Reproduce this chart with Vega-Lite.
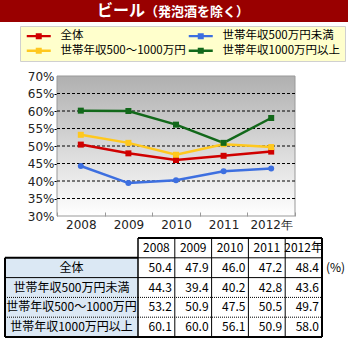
{
  "$schema": "https://vega.github.io/schema/vega-lite/v6.json",
  "padding": 0,
  "background": "white",
  "spacing": 0,
  "resolve": {"scale": {"color": "independent", "stroke": "independent"}, "legend": {"color": "independent", "stroke": "independent"}},
  "config": {"view": {"stroke": null}, "font": "Noto Sans CJK JP"},
  "datasets": {
    "rates": [
      {"series": "全体", "year": "2008", "value": 50.4},
      {"series": "全体", "year": "2009", "value": 47.9},
      {"series": "全体", "year": "2010", "value": 46.0},
      {"series": "全体", "year": "2011", "value": 47.2},
      {"series": "全体", "year": "2012", "value": 48.4},
      {"series": "世帯年収500万円未満", "year": "2008", "value": 44.3},
      {"series": "世帯年収500万円未満", "year": "2009", "value": 39.4},
      {"series": "世帯年収500万円未満", "year": "2010", "value": 40.2},
      {"series": "世帯年収500万円未満", "year": "2011", "value": 42.8},
      {"series": "世帯年収500万円未満", "year": "2012", "value": 43.6},
      {"series": "世帯年収500～1000万円", "year": "2008", "value": 53.2},
      {"series": "世帯年収500～1000万円", "year": "2009", "value": 50.9},
      {"series": "世帯年収500～1000万円", "year": "2010", "value": 47.5},
      {"series": "世帯年収500～1000万円", "year": "2011", "value": 50.5},
      {"series": "世帯年収500～1000万円", "year": "2012", "value": 49.7},
      {"series": "世帯年収1000万円以上", "year": "2008", "value": 60.1},
      {"series": "世帯年収1000万円以上", "year": "2009", "value": 60.0},
      {"series": "世帯年収1000万円以上", "year": "2010", "value": 56.1},
      {"series": "世帯年収1000万円以上", "year": "2011", "value": 50.9},
      {"series": "世帯年収1000万円以上", "year": "2012", "value": 58.0}
    ],
    "years": [
      {"year": "2008", "label": "2008"},
      {"year": "2009", "label": "2009"},
      {"year": "2010", "label": "2010"},
      {"year": "2011", "label": "2011"},
      {"year": "2012", "label": "2012年"}
    ],
    "grid": [{"v": 35}, {"v": 40}, {"v": 45}, {"v": 50}, {"v": 55}, {"v": 60}, {"v": 65}],
    "one": [{}]
  },
  "vconcat": [
    {
      "width": 348,
      "height": 22,
      "data": {"name": "one"},
      "layer": [
        {"mark": {"type": "rect", "fill": "#990000"}, "encoding": {}},
        {"mark": {"type": "text", "text": "ビール", "align": "right", "baseline": "middle", "dx": -29, "fontSize": 16, "fontWeight": "bold", "color": "#ffffff", "font": "Noto Sans CJK JP"}, "encoding": {}},
        {"mark": {"type": "text", "text": "（発泡酒を除く）", "align": "left", "baseline": "middle", "dx": -29, "dy": 1, "fontSize": 13, "fontWeight": "bold", "color": "#ffffff", "font": "Noto Sans CJK JP"}, "encoding": {}}
      ]
    },
    {
      "width": 295,
      "height": 215,
      "layer": [
        {
          "data": {"name": "one"},
          "mark": {"type": "rect", "stroke": "#999999", "strokeWidth": 1,
            "fill": {"gradient": "linear", "x1": 0, "y1": 0, "x2": 0, "y2": 1,
              "stops": [{"offset": 0, "color": "#b0b0b0"}, {"offset": 1, "color": "#ffffff"}]}},
          "encoding": {
            "x": {"datum": "2008", "type": "ordinal", "bandPosition": 0,
              "scale": {"type": "band", "domain": ["2008", "2009", "2010", "2011", "2012"], "range": [57, 295], "paddingInner": 0, "paddingOuter": 0},
              "axis": {"orient": "bottom", "offset": -21, "domain": false, "grid": false, "tickBand": "extent", "tickSize": -4, "tickColor": "#999999", "labelExpr": "datum.value == '2012' ? '2012年' : datum.value", "labelFont": "DejaVu Sans", "labelFontSize": 12, "labelColor": "#222222", "labelPadding": 7, "labelAngle": 0, "title": null}},
            "x2": {"datum": "2012", "bandPosition": 1},
            "y": {"datum": 70, "type": "quantitative",
              "scale": {"type": "linear", "domain": [30, 70], "range": [194, 54], "nice": false, "zero": false},
              "axis": {"orient": "left", "offset": -57, "values": [30, 35, 40, 45, 50, 55, 60, 65, 70], "labelExpr": "datum.value + '%'", "title": null, "domain": false, "grid": false, "tickSize": 3, "tickColor": "#000000", "tickOpacity": {"condition": {"test": "datum.value == 30 || datum.value == 70", "value": 0}, "value": 1}, "labelFont": "DejaVu Sans", "labelFontSize": 12, "labelColor": "#222222", "labelPadding": 0}},
            "y2": {"datum": 30}
          }
        },
        {
          "data": {"name": "grid"},
          "mark": {"type": "rule", "color": "#000000", "strokeWidth": 1, "strokeDash": [3, 2]},
          "encoding": {
            "x": {"datum": "2008", "type": "ordinal", "bandPosition": 0,
              "scale": {"type": "band", "domain": ["2008", "2009", "2010", "2011", "2012"], "range": [57, 295], "paddingInner": 0, "paddingOuter": 0},
              "axis": {"orient": "bottom", "offset": -21, "domain": false, "grid": false, "tickBand": "extent", "tickSize": -4, "tickColor": "#999999", "labelExpr": "datum.value == '2012' ? '2012年' : datum.value", "labelFont": "DejaVu Sans", "labelFontSize": 12, "labelColor": "#222222", "labelPadding": 7, "labelAngle": 0, "title": null}},
            "x2": {"datum": "2012", "bandPosition": 1},
            "y": {"field": "v", "type": "quantitative",
              "scale": {"type": "linear", "domain": [30, 70], "range": [194, 54], "nice": false, "zero": false},
              "axis": {"orient": "left", "offset": -57, "values": [30, 35, 40, 45, 50, 55, 60, 65, 70], "labelExpr": "datum.value + '%'", "title": null, "domain": false, "grid": false, "tickSize": 3, "tickColor": "#000000", "tickOpacity": {"condition": {"test": "datum.value == 30 || datum.value == 70", "value": 0}, "value": 1}, "labelFont": "DejaVu Sans", "labelFontSize": 12, "labelColor": "#222222", "labelPadding": 0}}
          }
        },
        {
          "data": {"name": "rates"},
          "mark": {"type": "line", "strokeWidth": 2.5},
          "encoding": {
            "x": {"field": "year", "type": "ordinal",
              "scale": {"type": "band", "domain": ["2008", "2009", "2010", "2011", "2012"], "range": [57, 295], "paddingInner": 0, "paddingOuter": 0},
              "axis": {"orient": "bottom", "offset": -21, "domain": false, "grid": false, "tickBand": "extent", "tickSize": -4, "tickColor": "#999999", "labelExpr": "datum.value == '2012' ? '2012年' : datum.value", "labelFont": "DejaVu Sans", "labelFontSize": 12, "labelColor": "#222222", "labelPadding": 7, "labelAngle": 0, "title": null}},
            "y": {"field": "value", "type": "quantitative",
              "scale": {"type": "linear", "domain": [30, 70], "range": [194, 54], "nice": false, "zero": false},
              "axis": {"orient": "left", "offset": -57, "values": [30, 35, 40, 45, 50, 55, 60, 65, 70], "labelExpr": "datum.value + '%'", "title": null, "domain": false, "grid": false, "tickSize": 3, "tickColor": "#000000", "tickOpacity": {"condition": {"test": "datum.value == 30 || datum.value == 70", "value": 0}, "value": 1}, "labelFont": "DejaVu Sans", "labelFontSize": 12, "labelColor": "#222222", "labelPadding": 0}},
            "stroke": {"field": "series", "type": "nominal",
              "scale": {"domain": ["世帯年収1000万円以上", "世帯年収500～1000万円", "世帯年収500万円未満", "全体"], "range": ["#12681a", "#ffc81e", "#3d6fe0", "#d00000"]},
              "legend": null}
          }
        },
        {
          "data": {"name": "rates"},
          "transform": [{"filter": "datum.series !== '世帯年収500万円未満'"}],
          "mark": {"type": "square", "opacity": 1, "size": 36},
          "encoding": {
            "x": {"field": "year", "type": "ordinal",
              "scale": {"type": "band", "domain": ["2008", "2009", "2010", "2011", "2012"], "range": [57, 295], "paddingInner": 0, "paddingOuter": 0},
              "axis": {"orient": "bottom", "offset": -21, "domain": false, "grid": false, "tickBand": "extent", "tickSize": -4, "tickColor": "#999999", "labelExpr": "datum.value == '2012' ? '2012年' : datum.value", "labelFont": "DejaVu Sans", "labelFontSize": 12, "labelColor": "#222222", "labelPadding": 7, "labelAngle": 0, "title": null}},
            "y": {"field": "value", "type": "quantitative",
              "scale": {"type": "linear", "domain": [30, 70], "range": [194, 54], "nice": false, "zero": false},
              "axis": {"orient": "left", "offset": -57, "values": [30, 35, 40, 45, 50, 55, 60, 65, 70], "labelExpr": "datum.value + '%'", "title": null, "domain": false, "grid": false, "tickSize": 3, "tickColor": "#000000", "tickOpacity": {"condition": {"test": "datum.value == 30 || datum.value == 70", "value": 0}, "value": 1}, "labelFont": "DejaVu Sans", "labelFontSize": 12, "labelColor": "#222222", "labelPadding": 0}},
            "color": {"field": "series", "type": "nominal",
              "scale": {"domain": ["全体", "世帯年収500万円未満", "世帯年収500～1000万円", "世帯年収1000万円以上"], "range": ["#d00000", "#3d6fe0", "#ffc81e", "#12681a"]},
              "legend": {"title": null, "orient": "none", "direction": "horizontal", "legendX": 20, "legendY": 4, "columns": 2, "columnPadding": 0, "rowPadding": 2, "padding": 4,
                "fillColor": "#ffffcc", "strokeColor": "#d0d0d0", "labelFont": "Noto Sans CJK JP", "labelFontSize": 11.5, "labelColor": "#000000", "labelLimit": 300,
                "symbolType": "M-4,-0.4H4V0.4H-4Z M-1,-1H1V1H-1Z", "symbolSize": 36, "symbolOffset": 9, "labelOffset": 16, "symbolStrokeWidth": 0}}
          }
        },
        {
          "data": {"name": "rates"},
          "transform": [{"filter": "datum.series === '世帯年収500万円未満'"}],
          "mark": {"type": "circle", "opacity": 1, "size": 36},
          "encoding": {
            "x": {"field": "year", "type": "ordinal",
              "scale": {"type": "band", "domain": ["2008", "2009", "2010", "2011", "2012"], "range": [57, 295], "paddingInner": 0, "paddingOuter": 0},
              "axis": {"orient": "bottom", "offset": -21, "domain": false, "grid": false, "tickBand": "extent", "tickSize": -4, "tickColor": "#999999", "labelExpr": "datum.value == '2012' ? '2012年' : datum.value", "labelFont": "DejaVu Sans", "labelFontSize": 12, "labelColor": "#222222", "labelPadding": 7, "labelAngle": 0, "title": null}},
            "y": {"field": "value", "type": "quantitative",
              "scale": {"type": "linear", "domain": [30, 70], "range": [194, 54], "nice": false, "zero": false},
              "axis": {"orient": "left", "offset": -57, "values": [30, 35, 40, 45, 50, 55, 60, 65, 70], "labelExpr": "datum.value + '%'", "title": null, "domain": false, "grid": false, "tickSize": 3, "tickColor": "#000000", "tickOpacity": {"condition": {"test": "datum.value == 30 || datum.value == 70", "value": 0}, "value": 1}, "labelFont": "DejaVu Sans", "labelFontSize": 12, "labelColor": "#222222", "labelPadding": 0}},
            "color": {"field": "series", "type": "nominal",
              "scale": {"domain": ["全体", "世帯年収500万円未満", "世帯年収500～1000万円", "世帯年収1000万円以上"], "range": ["#d00000", "#3d6fe0", "#ffc81e", "#12681a"]}}
          }
        }
      ]
    },
    {
      "width": 348,
      "height": 99,
      "resolve": {"scale": {"x": "independent"}},
      "layer": [
        {
          "layer": [
            {
              "data": {"name": "rates"},
              "transform": [{"filter": "datum.year === '2008'"}],
              "mark": {"type": "rect", "fill": "#dbe8f4"},
              "encoding": {
                "x": {"datum": "label", "type": "nominal", "scale": {"type": "band", "domain": ["label"], "range": [5, 138], "paddingInner": 0, "paddingOuter": 0}, "axis": null},
                "y": {"field": "series", "type": "nominal", "scale": {"type": "band", "domain": ["header", "全体", "世帯年収500万円未満", "世帯年収500～1000万円", "世帯年収1000万円以上"], "paddingInner": 0, "paddingOuter": 0}, "axis": null}
              }
            },
            {
              "data": {"name": "rates"},
              "transform": [{"filter": "datum.year === '2008'"}],
              "mark": {"type": "text", "font": "Noto Sans CJK JP", "fontSize": 12, "color": "#000000", "baseline": "middle"},
              "encoding": {
                "x": {"datum": "label", "type": "nominal", "scale": {"type": "band", "domain": ["label"], "range": [5, 138], "paddingInner": 0, "paddingOuter": 0}, "axis": null},
                "y": {"field": "series", "type": "nominal", "scale": {"type": "band", "domain": ["header", "全体", "世帯年収500万円未満", "世帯年収500～1000万円", "世帯年収1000万円以上"], "paddingInner": 0, "paddingOuter": 0}, "axis": null},
                "text": {"field": "series"}
              }
            },
            {
              "data": {"name": "one"},
              "mark": {"type": "rule", "color": "#000000", "strokeWidth": 2},
              "encoding": {
                "x": {"datum": "label", "type": "nominal", "bandPosition": 0, "scale": {"type": "band", "domain": ["label"], "range": [5, 138], "paddingInner": 0, "paddingOuter": 0}, "axis": null},
                "x2": {"datum": "label", "bandPosition": 1},
                "y": {"datum": "全体", "type": "nominal", "bandPosition": 0, "scale": {"type": "band", "domain": ["header", "全体", "世帯年収500万円未満", "世帯年収500～1000万円", "世帯年収1000万円以上"], "paddingInner": 0, "paddingOuter": 0}, "axis": null}
              }
            },
            {
              "data": {"name": "one"},
              "mark": {"type": "rule", "color": "#000000", "strokeWidth": 1},
              "encoding": {
                "x": {"datum": "label", "type": "nominal", "bandPosition": 0, "scale": {"type": "band", "domain": ["label"], "range": [5, 138], "paddingInner": 0, "paddingOuter": 0}, "axis": null},
                "x2": {"datum": "label", "bandPosition": 1},
                "y": {"datum": "世帯年収500万円未満", "type": "nominal", "bandPosition": 0, "scale": {"type": "band", "domain": ["header", "全体", "世帯年収500万円未満", "世帯年収500～1000万円", "世帯年収1000万円以上"], "paddingInner": 0, "paddingOuter": 0}, "axis": null}
              }
            },
            {
              "data": {"name": "one"},
              "mark": {"type": "rule", "color": "#000000", "strokeWidth": 1, "strokeDash": [1, 1]},
              "encoding": {
                "x": {"datum": "label", "type": "nominal", "bandPosition": 0, "scale": {"type": "band", "domain": ["label"], "range": [5, 138], "paddingInner": 0, "paddingOuter": 0}, "axis": null},
                "x2": {"datum": "label", "bandPosition": 1},
                "y": {"datum": "世帯年収500～1000万円", "type": "nominal", "bandPosition": 0, "scale": {"type": "band", "domain": ["header", "全体", "世帯年収500万円未満", "世帯年収500～1000万円", "世帯年収1000万円以上"], "paddingInner": 0, "paddingOuter": 0}, "axis": null}
              }
            },
            {
              "data": {"name": "one"},
              "mark": {"type": "rule", "color": "#000000", "strokeWidth": 1, "strokeDash": [1, 1]},
              "encoding": {
                "x": {"datum": "label", "type": "nominal", "bandPosition": 0, "scale": {"type": "band", "domain": ["label"], "range": [5, 138], "paddingInner": 0, "paddingOuter": 0}, "axis": null},
                "x2": {"datum": "label", "bandPosition": 1},
                "y": {"datum": "世帯年収1000万円以上", "type": "nominal", "bandPosition": 0, "scale": {"type": "band", "domain": ["header", "全体", "世帯年収500万円未満", "世帯年収500～1000万円", "世帯年収1000万円以上"], "paddingInner": 0, "paddingOuter": 0}, "axis": null}
              }
            },
            {
              "data": {"name": "one"},
              "mark": {"type": "rule", "color": "#000000", "strokeWidth": 2},
              "encoding": {
                "x": {"datum": "label", "type": "nominal", "bandPosition": 0, "scale": {"type": "band", "domain": ["label"], "range": [5, 138], "paddingInner": 0, "paddingOuter": 0}, "axis": null},
                "x2": {"datum": "label", "bandPosition": 1},
                "y": {"datum": "世帯年収1000万円以上", "type": "nominal", "bandPosition": 1, "scale": {"type": "band", "domain": ["header", "全体", "世帯年収500万円未満", "世帯年収500～1000万円", "世帯年収1000万円以上"], "paddingInner": 0, "paddingOuter": 0}, "axis": null}
              }
            },
            {
              "data": {"name": "one"},
              "mark": {"type": "rule", "color": "#000000", "strokeWidth": 2},
              "encoding": {
                "x": {"datum": "label", "type": "nominal", "bandPosition": 0, "scale": {"type": "band", "domain": ["label"], "range": [5, 138], "paddingInner": 0, "paddingOuter": 0}, "axis": null},
                "y": {"datum": "全体", "type": "nominal", "bandPosition": 0, "scale": {"type": "band", "domain": ["header", "全体", "世帯年収500万円未満", "世帯年収500～1000万円", "世帯年収1000万円以上"], "paddingInner": 0, "paddingOuter": 0}, "axis": null},
                "y2": {"datum": "世帯年収1000万円以上", "bandPosition": 1}
              }
            }
          ]
        },
        {
          "layer": [
            {
              "data": {"name": "years"},
              "mark": {"type": "text", "font": "Noto Sans CJK JP", "fontSize": 12, "color": "#000000", "baseline": "middle"},
              "encoding": {
                "x": {"field": "year", "type": "ordinal", "scale": {"type": "band", "domain": ["2008", "2009", "2010", "2011", "2012"], "range": [138, 322], "paddingInner": 0, "paddingOuter": 0}, "axis": null},
                "y": {"datum": "header", "type": "nominal", "scale": {"type": "band", "domain": ["header", "全体", "世帯年収500万円未満", "世帯年収500～1000万円", "世帯年収1000万円以上"], "paddingInner": 0, "paddingOuter": 0}, "axis": null},
                "text": {"field": "label"}
              }
            },
            {
              "data": {"name": "rates"},
              "mark": {"type": "text", "font": "Noto Sans CJK JP", "fontSize": 12, "color": "#000000", "baseline": "middle", "align": "right", "dx": -3},
              "encoding": {
                "x": {"field": "year", "type": "ordinal", "bandPosition": 1, "scale": {"type": "band", "domain": ["2008", "2009", "2010", "2011", "2012"], "range": [138, 322], "paddingInner": 0, "paddingOuter": 0}, "axis": null},
                "y": {"field": "series", "type": "nominal", "scale": {"type": "band", "domain": ["header", "全体", "世帯年収500万円未満", "世帯年収500～1000万円", "世帯年収1000万円以上"], "paddingInner": 0, "paddingOuter": 0}, "axis": null},
                "text": {"field": "value", "format": ".1f"}
              }
            },
            {
              "data": {"name": "one"},
              "mark": {"type": "text", "text": "(%)", "font": "Noto Sans CJK JP", "fontSize": 12, "color": "#000000", "baseline": "middle", "align": "left", "dx": 4},
              "encoding": {
                "x": {"datum": "2012", "type": "ordinal", "bandPosition": 1, "scale": {"type": "band", "domain": ["2008", "2009", "2010", "2011", "2012"], "range": [138, 322], "paddingInner": 0, "paddingOuter": 0}, "axis": null},
                "y": {"datum": "全体", "type": "nominal", "scale": {"type": "band", "domain": ["header", "全体", "世帯年収500万円未満", "世帯年収500～1000万円", "世帯年収1000万円以上"], "paddingInner": 0, "paddingOuter": 0}, "axis": null}
              }
            },
            {
              "data": {"name": "years"},
              "transform": [{"filter": "datum.year !== '2008'"}],
              "mark": {"type": "rule", "color": "#000000", "strokeWidth": 1},
              "encoding": {
                "x": {"field": "year", "type": "ordinal", "bandPosition": 0, "scale": {"type": "band", "domain": ["2008", "2009", "2010", "2011", "2012"], "range": [138, 322], "paddingInner": 0, "paddingOuter": 0}, "axis": null}
              }
            },
            {
              "data": {"name": "one"},
              "mark": {"type": "rule", "color": "#000000", "strokeWidth": 1.5},
              "encoding": {
                "x": {"datum": "2008", "type": "ordinal", "bandPosition": 0, "scale": {"type": "band", "domain": ["2008", "2009", "2010", "2011", "2012"], "range": [138, 322], "paddingInner": 0, "paddingOuter": 0}, "axis": null}
              }
            },
            {
              "data": {"name": "one"},
              "mark": {"type": "rule", "color": "#000000", "strokeWidth": 2},
              "encoding": {
                "x": {"datum": "2012", "type": "ordinal", "bandPosition": 1, "scale": {"type": "band", "domain": ["2008", "2009", "2010", "2011", "2012"], "range": [138, 322], "paddingInner": 0, "paddingOuter": 0}, "axis": null}
              }
            },
            {
              "data": {"name": "one"},
              "mark": {"type": "rule", "color": "#000000", "strokeWidth": 2},
              "encoding": {
                "x": {"datum": "2008", "type": "ordinal", "bandPosition": 0, "scale": {"type": "band", "domain": ["2008", "2009", "2010", "2011", "2012"], "range": [138, 322], "paddingInner": 0, "paddingOuter": 0}, "axis": null},
                "x2": {"datum": "2012", "bandPosition": 1},
                "y": {"datum": "header", "type": "nominal", "bandPosition": 0, "scale": {"type": "band", "domain": ["header", "全体", "世帯年収500万円未満", "世帯年収500～1000万円", "世帯年収1000万円以上"], "paddingInner": 0, "paddingOuter": 0}, "axis": null}
              }
            },
            {
              "data": {"name": "one"},
              "mark": {"type": "rule", "color": "#000000", "strokeWidth": 1},
              "encoding": {
                "x": {"datum": "2008", "type": "ordinal", "bandPosition": 0, "scale": {"type": "band", "domain": ["2008", "2009", "2010", "2011", "2012"], "range": [138, 322], "paddingInner": 0, "paddingOuter": 0}, "axis": null},
                "x2": {"datum": "2012", "bandPosition": 1},
                "y": {"datum": "全体", "type": "nominal", "bandPosition": 0, "scale": {"type": "band", "domain": ["header", "全体", "世帯年収500万円未満", "世帯年収500～1000万円", "世帯年収1000万円以上"], "paddingInner": 0, "paddingOuter": 0}, "axis": null}
              }
            },
            {
              "data": {"name": "one"},
              "mark": {"type": "rule", "color": "#000000", "strokeWidth": 1},
              "encoding": {
                "x": {"datum": "2008", "type": "ordinal", "bandPosition": 0, "scale": {"type": "band", "domain": ["2008", "2009", "2010", "2011", "2012"], "range": [138, 322], "paddingInner": 0, "paddingOuter": 0}, "axis": null},
                "x2": {"datum": "2012", "bandPosition": 1},
                "y": {"datum": "世帯年収500万円未満", "type": "nominal", "bandPosition": 0, "scale": {"type": "band", "domain": ["header", "全体", "世帯年収500万円未満", "世帯年収500～1000万円", "世帯年収1000万円以上"], "paddingInner": 0, "paddingOuter": 0}, "axis": null}
              }
            },
            {
              "data": {"name": "one"},
              "mark": {"type": "rule", "color": "#000000", "strokeWidth": 1, "strokeDash": [1, 1]},
              "encoding": {
                "x": {"datum": "2008", "type": "ordinal", "bandPosition": 0, "scale": {"type": "band", "domain": ["2008", "2009", "2010", "2011", "2012"], "range": [138, 322], "paddingInner": 0, "paddingOuter": 0}, "axis": null},
                "x2": {"datum": "2012", "bandPosition": 1},
                "y": {"datum": "世帯年収500～1000万円", "type": "nominal", "bandPosition": 0, "scale": {"type": "band", "domain": ["header", "全体", "世帯年収500万円未満", "世帯年収500～1000万円", "世帯年収1000万円以上"], "paddingInner": 0, "paddingOuter": 0}, "axis": null}
              }
            },
            {
              "data": {"name": "one"},
              "mark": {"type": "rule", "color": "#000000", "strokeWidth": 1, "strokeDash": [1, 1]},
              "encoding": {
                "x": {"datum": "2008", "type": "ordinal", "bandPosition": 0, "scale": {"type": "band", "domain": ["2008", "2009", "2010", "2011", "2012"], "range": [138, 322], "paddingInner": 0, "paddingOuter": 0}, "axis": null},
                "x2": {"datum": "2012", "bandPosition": 1},
                "y": {"datum": "世帯年収1000万円以上", "type": "nominal", "bandPosition": 0, "scale": {"type": "band", "domain": ["header", "全体", "世帯年収500万円未満", "世帯年収500～1000万円", "世帯年収1000万円以上"], "paddingInner": 0, "paddingOuter": 0}, "axis": null}
              }
            },
            {
              "data": {"name": "one"},
              "mark": {"type": "rule", "color": "#000000", "strokeWidth": 2},
              "encoding": {
                "x": {"datum": "2008", "type": "ordinal", "bandPosition": 0, "scale": {"type": "band", "domain": ["2008", "2009", "2010", "2011", "2012"], "range": [138, 322], "paddingInner": 0, "paddingOuter": 0}, "axis": null},
                "x2": {"datum": "2012", "bandPosition": 1},
                "y": {"datum": "世帯年収1000万円以上", "type": "nominal", "bandPosition": 1, "scale": {"type": "band", "domain": ["header", "全体", "世帯年収500万円未満", "世帯年収500～1000万円", "世帯年収1000万円以上"], "paddingInner": 0, "paddingOuter": 0}, "axis": null}
              }
            }
          ]
        }
      ]
    }
  ]
}
